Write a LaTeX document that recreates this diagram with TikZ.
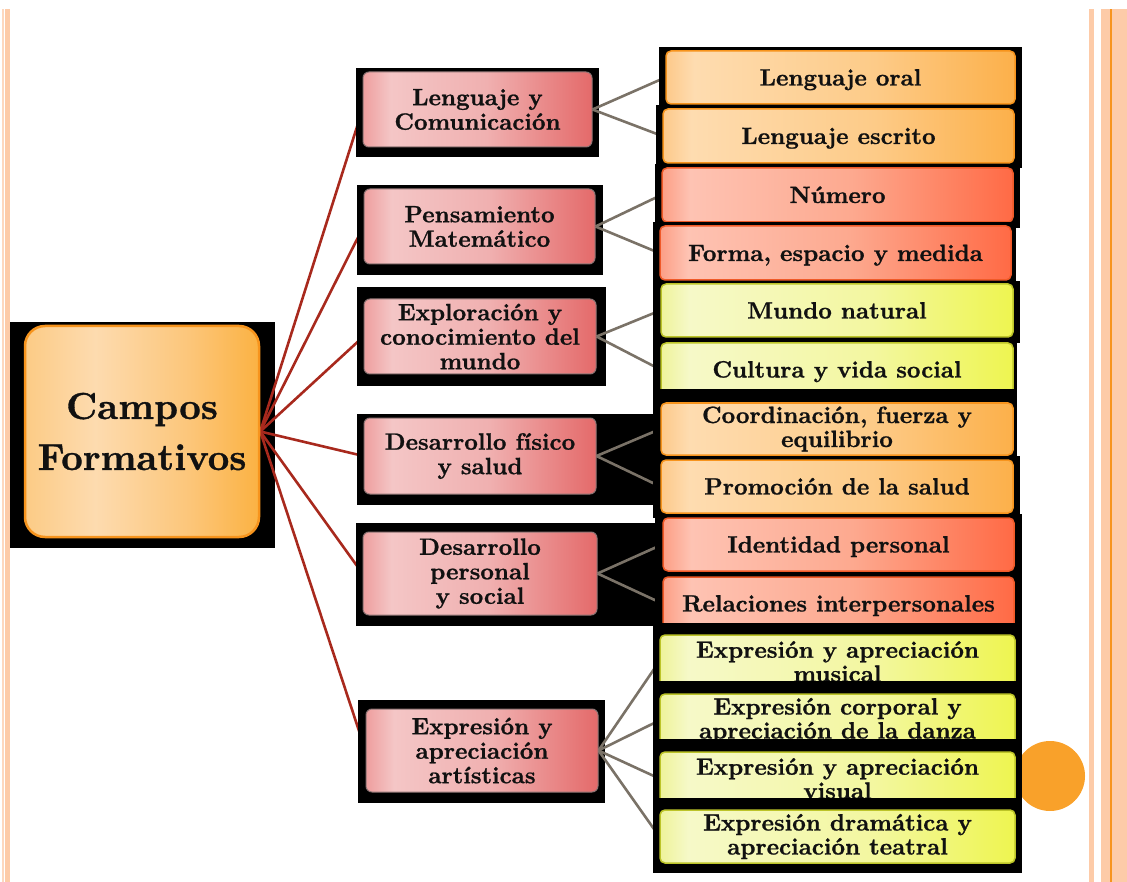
\documentclass[tikz,border=0pt]{standalone}
\usepackage{fontspec}
\newfontfamily\boxfont{lmroman10-bold.otf}[FakeBold=0.9]
\definecolor{txt}{HTML}{111111}
\definecolor{redln}{HTML}{A8291D}
\definecolor{greyln}{HTML}{7A7267}
\definecolor{stripA}{HTML}{FDD8BF}
\definecolor{stripB}{HTML}{FDCBA8}
\definecolor{stripO}{HTML}{F7941D}
\definecolor{dotc}{HTML}{F9A12A}
% level 2
\definecolor{pA}{HTML}{EE9E9E}\definecolor{pB}{HTML}{F4C6C6}\definecolor{pC}{HTML}{F0B0B0}\definecolor{pD}{HTML}{E46A6A}
\definecolor{pBorder}{HTML}{8E7474}
% orange
\definecolor{oA}{HTML}{FDC98A}\definecolor{oB}{HTML}{FEDCB0}\definecolor{oC}{HTML}{FDCB88}\definecolor{oD}{HTML}{FCB04A}
\definecolor{oBorder}{HTML}{F7941D}
% red-orange
\definecolor{rA}{HTML}{FC9E85}\definecolor{rB}{HTML}{FEC3B3}\definecolor{rC}{HTML}{FDA98F}\definecolor{rD}{HTML}{FF6A45}
\definecolor{rBorder}{HTML}{F05A28}
% yellow
\definecolor{yA}{HTML}{EEF39A}\definecolor{yB}{HTML}{F6F9C8}\definecolor{yC}{HTML}{F3F7A0}\definecolor{yD}{HTML}{EEF550}
\definecolor{yBorder}{HTML}{BCC428}
% campos
\definecolor{cA}{HTML}{FCCB85}\definecolor{cB}{HTML}{FDDBAF}\definecolor{cC}{HTML}{FCC67A}\definecolor{cD}{HTML}{FBB243}
\pgfdeclarehorizontalshading{shPink}{100bp}{color(0bp)=(pA); color(25bp)=(pA); color(31bp)=(pB); color(52bp)=(pC); color(75bp)=(pD); color(100bp)=(pD)}
\pgfdeclarehorizontalshading{shOrange}{100bp}{color(0bp)=(oA); color(25bp)=(oA); color(29bp)=(oB); color(55bp)=(oC); color(75bp)=(oD); color(100bp)=(oD)}
\pgfdeclarehorizontalshading{shRed}{100bp}{color(0bp)=(rA); color(25bp)=(rA); color(29bp)=(rB); color(52bp)=(rC); color(75bp)=(rD); color(100bp)=(rD)}
\pgfdeclarehorizontalshading{shYellow}{100bp}{color(0bp)=(yA); color(25bp)=(yA); color(29bp)=(yB); color(55bp)=(yC); color(75bp)=(yD); color(100bp)=(yD)}
\pgfdeclarehorizontalshading{shCampos}{100bp}{color(0bp)=(cA); color(25bp)=(cA); color(40bp)=(cB); color(60bp)=(cC); color(75bp)=(cD); color(100bp)=(cD)}
\pgfdeclarelayer{layA}\pgfdeclarelayer{layB}\pgfdeclarelayer{layC}\pgfdeclarelayer{layD}
\pgfsetlayers{layA,layB,layC,layD,main}
\tikzset{
  campo/.style={rectangle, rounded corners=20pt, draw=oBorder, line width=2.5pt, shading=shCampos,
     minimum width=234pt, minimum height=211pt, inner sep=0pt, align=center, text=txt,
     font=\boxfont\fontsize{37.5}{51}\selectfont},
  lvtwo/.style={rectangle, rounded corners=6pt, draw=pBorder, line width=1pt, shading=shPink,
     inner sep=0pt, align=center, text=txt, font=\boxfont\fontsize{23.6}{24.5}\selectfont},
  lvthree/.style={rectangle, rounded corners=5pt, line width=1.5pt, inner sep=0pt, align=center,
     text=txt, font=\boxfont\fontsize{23.6}{24}\selectfont},
  oneline/.style={text height=17pt, text depth=1pt},
  orangebox/.style={lvthree, draw=oBorder, shading=shOrange},
  redbox/.style={lvthree, draw=rBorder, shading=shRed},
  yellowbox/.style={lvthree, draw=yBorder, shading=shYellow},
  redlink/.style={draw=redln, line width=2.6pt},
  greylink/.style={draw=greyln, line width=2.6pt},
  backing/.style={fill=black}
}
\begin{document}
\begin{tikzpicture}[x=1pt,y=-1pt]
\useasboundingbox (0,0) rectangle (1127,882);
% page decoration
\fill[stripA] (2,9) rectangle (3.5,882);
\fill[stripB] (5,9) rectangle (9.5,882);
\fill[stripB] (1089,9) rectangle (1094,882);
\fill[stripB] (1101,9) rectangle (1127,882);
\fill[stripO] (1110,9) rectangle (1111.5,882);
\fill[dotc] (1050,776) circle[radius=35pt];

% level 2 nodes
\node[lvtwo, minimum width=229pt, minimum height=75pt] (lyc) at (477.5,109.5) {Lenguaje y\\Comunicación};
\node[lvtwo, minimum width=231pt, minimum height=75pt] (pm) at (479.5,226.5) {Pensamiento\\Matemático};
\node[lvtwo, minimum width=232pt, minimum height=75pt] (exp) at (480,336.5) {Exploración y\\conocimiento del\\mundo};
\node[lvtwo, minimum width=232pt, minimum height=76pt] (dfs) at (480,456) {Desarrollo físico\\y salud};
\node[lvtwo, minimum width=234pt, minimum height=83pt] (dps) at (480,573.5) {Desarrollo\\personal\\y social};
\node[lvtwo, minimum width=232pt, minimum height=83pt] (eaa) at (482,750.5) {Expresión y\\apreciación\\artísticas};

% level 3 nodes, each on its black backing
\fill[backing] (659,47) rectangle (1022,112);
\node[orangebox, oneline, minimum width=349pt, minimum height=53pt] (lo) at (840.5,77.5) {Lenguaje oral};
\fill[backing] (656,105) rectangle (1022,168);
\node[orangebox, oneline, minimum width=351pt, minimum height=54pt] (le) at (838.5,136) {Lenguaje escrito};
\fill[backing] (655,164) rectangle (1020,228);
\node[redbox, oneline, minimum width=351pt, minimum height=54pt] (num) at (837.5,195) {Número};
\fill[backing] (653,222) rectangle (1016,285);
\node[redbox, oneline, minimum width=351pt, minimum height=54pt] (forma) at (835.5,253) {Forma, espacio y medida};
\fill[backing] (653,281) rectangle (1020,343);
\node[yellowbox, oneline, minimum width=352pt, minimum height=53pt] (mundo) at (837,310.5) {Mundo natural};
\fill[backing] (653,339) rectangle (1017,398);
\node[yellowbox, oneline, minimum width=352pt, minimum height=53pt] (cult) at (837,369.5) {Cultura y vida social};
\fill[backing] (653,389) rectangle (1017,458);
\node[orangebox, minimum width=352pt, minimum height=52pt] (coord) at (837,429) {Coordinación, fuerza y\\equilibrio};
\fill[backing] (653,456) rectangle (1020,518);
\node[orangebox, oneline, minimum width=352pt, minimum height=53pt] (prom) at (837,486.5) {Promoción de la salud};
\fill[backing] (655,514) rectangle (1022,576);
\node[redbox, oneline, minimum width=351pt, minimum height=53pt] (ident) at (838.5,544.5) {Identidad personal};
\fill[backing] (655,573) rectangle (1022,628);
\node[redbox, oneline, minimum width=351pt, minimum height=53pt] (rel) at (838.5,603.5) {Relaciones interpersonales};
\fill[backing] (653,623) rectangle (1022,690);
\node[yellowbox, minimum width=355pt, minimum height=53pt] (mus) at (837.5,661.5) {Expresión y apreciación\\musical};
\fill[backing] (653,681) rectangle (1022,748);
\node[yellowbox, minimum width=355pt, minimum height=53pt] (corp) at (837.5,720.5) {Expresión corporal y\\apreciación de la danza};
\fill[backing] (653,739) rectangle (1022,806);
\node[yellowbox, minimum width=355pt, minimum height=53pt] (vis) at (837.5,778.5) {Expresión y apreciación\\visual};
\fill[backing] (653,798) rectangle (1022,873);
\node[yellowbox, minimum width=355pt, minimum height=53pt] (dram) at (837.5,836.5) {Expresión dramática y\\apreciación teatral};

% root
\node[campo] (cf) at (142,431.5) {Campos\\Formativos};

% backgrounds and connectors
\begin{pgfonlayer}{layA}
  \fill[backing] (9,322) rectangle (275,548);
\end{pgfonlayer}
\begin{pgfonlayer}{layB}
  \foreach \t in {lyc,pm,exp,dfs,dps,eaa} \draw[redlink] (cf.east) -- (\t.west);
\end{pgfonlayer}
\begin{pgfonlayer}{layC}
  \fill[backing] (356,68) rectangle (599,157);
  \fill[backing] (357,185) rectangle (603,275);
  \fill[backing] (357,287) rectangle (606,386);
  \fill[backing] (357,414) rectangle (660,505);
  \fill[backing] (356,523) rectangle (660,626);
  \fill[backing] (358,700) rectangle (605,803);
\end{pgfonlayer}
\begin{pgfonlayer}{layD}
  \draw[greylink] (lyc.east) -- (lo.west);
  \draw[greylink] (lyc.east) -- (le.west);
  \draw[greylink] (pm.east) -- (num.west);
  \draw[greylink] (pm.east) -- (forma.west);
  \draw[greylink] (exp.east) -- (mundo.west);
  \draw[greylink] (exp.east) -- (cult.west);
  \draw[greylink] (dfs.east) -- (coord.west);
  \draw[greylink] (dfs.east) -- (prom.west);
  \draw[greylink] (dps.east) -- (ident.west);
  \draw[greylink] (dps.east) -- (rel.west);
  \draw[greylink] (eaa.east) -- (mus.west);
  \draw[greylink] (eaa.east) -- (corp.west);
  \draw[greylink] (eaa.east) -- (vis.west);
  \draw[greylink] (eaa.east) -- (dram.west);
\end{pgfonlayer}
\end{tikzpicture}
\end{document}
